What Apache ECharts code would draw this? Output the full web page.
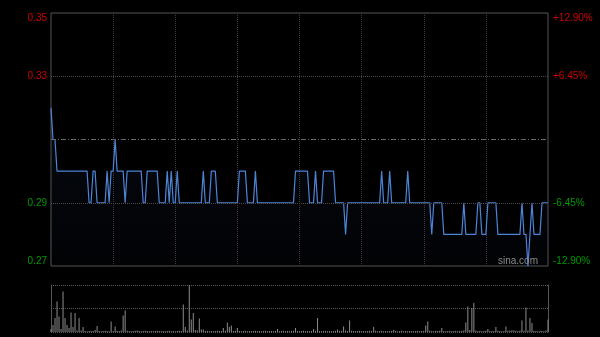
<!DOCTYPE html>
<html>
<head>
<meta charset="utf-8">
<script src="https://cdn.jsdelivr.net/npm/echarts@6/dist/echarts.min.js"></script>
<style>
html,body{margin:0;padding:0;background:#000;}
#c{width:600px;height:337px;}
</style>
</head>
<body>
<div id="c"></div>
<script>
const prevClose = 0.31;
const priceTicks = [0.27, 0.29, 0.31, 0.33, 0.35];
const prices = [
0.32,0.31,0.31,0.30,0.30,0.30,0.30,0.30,0.30,0.30,
0.30,0.30,0.30,0.30,0.30,0.30,0.30,0.30,0.30,0.29,
0.29,0.30,0.30,0.29,0.29,0.29,0.29,0.29,0.30,0.29,
0.30,0.30,0.31,0.30,0.30,0.30,0.30,0.29,0.30,0.30,
0.30,0.30,0.30,0.30,0.30,0.30,0.29,0.29,0.30,0.30,
0.30,0.30,0.30,0.30,0.29,0.29,0.29,0.29,0.30,0.29,
0.30,0.29,0.29,0.30,0.29,0.29,0.29,0.29,0.29,0.29,
0.29,0.29,0.29,0.29,0.29,0.29,0.30,0.29,0.29,0.29,
0.30,0.30,0.30,0.29,0.29,0.29,0.29,0.29,0.29,0.29,
0.29,0.29,0.29,0.29,0.30,0.30,0.30,0.30,0.29,0.29,
0.29,0.29,0.30,0.29,0.29,0.29,0.29,0.29,0.29,0.29,
0.29,0.29,0.29,0.29,0.29,0.29,0.29,0.29,0.29,0.29,
0.29,0.29,0.30,0.30,0.30,0.30,0.30,0.30,0.30,0.29,
0.29,0.29,0.30,0.29,0.29,0.29,0.30,0.30,0.30,0.30,
0.30,0.30,0.29,0.29,0.29,0.29,0.29,0.28,0.29,0.29,
0.29,0.29,0.29,0.29,0.29,0.29,0.29,0.29,0.29,0.29,
0.29,0.29,0.29,0.29,0.29,0.30,0.29,0.29,0.29,0.30,
0.29,0.29,0.29,0.29,0.29,0.29,0.29,0.29,0.30,0.29,
0.29,0.29,0.29,0.29,0.29,0.29,0.29,0.29,0.29,0.29,
0.28,0.29,0.29,0.29,0.29,0.29,0.28,0.28,0.28,0.28,
0.28,0.28,0.28,0.28,0.28,0.28,0.29,0.28,0.28,0.28,
0.28,0.28,0.28,0.29,0.29,0.28,0.28,0.28,0.29,0.29,
0.29,0.29,0.29,0.28,0.28,0.28,0.28,0.28,0.28,0.28,
0.28,0.28,0.28,0.28,0.28,0.29,0.28,0.28,0.27,0.28,
0.29,0.28,0.28,0.28,0.28,0.29,0.29,0.29,0.29
];
const volumes = [
60,140,280,610,310,60,810,280,140,80,
390,100,380,30,280,30,100,20,15,20,
25,20,40,120,20,15,20,25,20,15,
210,20,110,25,20,30,330,430,25,20,
15,20,25,30,20,15,20,25,20,15,
20,15,20,25,20,15,20,15,20,25,
15,20,15,20,25,20,550,100,30,940,
250,380,40,30,270,50,50,20,25,15,
20,15,20,25,20,20,80,25,190,100,
130,20,25,80,20,15,20,25,15,20,
15,20,25,15,20,15,20,25,15,20,
20,15,20,60,15,20,25,15,20,15,
20,25,80,20,15,20,25,15,20,15,
20,60,25,280,20,15,20,25,15,20,
15,20,25,50,20,25,110,30,20,230,
25,20,15,20,25,15,20,15,20,25,
20,100,25,15,20,25,15,20,15,20,
25,40,20,15,20,25,15,20,15,20,
20,15,20,25,15,20,25,130,210,30,
20,15,25,20,25,80,20,15,20,25,
15,20,25,15,20,25,30,190,510,40,
480,580,30,20,25,15,20,25,60,20,
15,20,100,25,20,15,20,110,25,30,
35,30,25,20,30,230,25,490,30,280,
180,25,20,15,25,20,15,30,250
];
const categories = prices.map((_, i) => String(i));

const RED = '#cc0000', GREEN = '#009900';
const FONT = 'Liberation Sans, Arial, sans-serif';
const isPrev = v => Math.abs(v - prevClose) < 1e-6;
const volMax = Math.max.apply(null, volumes);
const lastIdx = prices.length - 1;
const vStep = lastIdx / 8;

const chart = echarts.init(document.getElementById('c'), null, {renderer: 'canvas'});
chart.setOption({
  backgroundColor: '#000',
  animation: false,
  grid: [
    {left: 51, right: 52, top: 13, height: 253, show: true, borderColor: '#555', borderWidth: 1, backgroundColor: 'transparent'},
    {left: 51, right: 52, top: 285, height: 47, show: false}
  ],
  xAxis: [
    {type: 'category', gridIndex: 0, data: categories, boundaryGap: false,
     axisLine: {show: false}, axisTick: {show: false}, axisLabel: {show: false},
     splitLine: {show: true, interval: (i) => i > 0 && i < lastIdx && Math.abs(i / vStep - Math.round(i / vStep)) < 1e-6,
       lineStyle: {color: '#3a3a3a', type: [1, 1], width: 1}}},
    {type: 'category', gridIndex: 1, data: categories, boundaryGap: false,
     axisLine: {show: false}, axisTick: {show: false}, axisLabel: {show: false}, splitLine: {show: false}}
  ],
  yAxis: [
    {type: 'value', gridIndex: 0, position: 'left', min: priceTicks[0], max: priceTicks[priceTicks.length - 1], interval: 0.02,
     axisLine: {show: false}, axisTick: {show: false}, splitLine: {show: false},
     axisLabel: {fontSize: 10, fontFamily: FONT, margin: 4,
       formatter: v => isPrev(v) ? '' : v.toFixed(2),
       color: v => v > prevClose ? RED : GREEN,
       verticalAlignMinLabel: 'bottom', verticalAlignMaxLabel: 'top'}},
    {type: 'value', gridIndex: 0, position: 'right', min: priceTicks[0], max: priceTicks[priceTicks.length - 1], interval: 0.02,
     axisLine: {show: false}, axisTick: {show: false}, splitLine: {show: false},
     axisLabel: {fontSize: 10, fontFamily: FONT, margin: 5,
       formatter: v => {
         if (isPrev(v)) return '';
         const p = (v - prevClose) / prevClose * 100;
         return (p > 0 ? '+' : '') + p.toFixed(2) + '%';
       },
       color: v => v > prevClose ? RED : GREEN,
       verticalAlignMinLabel: 'bottom', verticalAlignMaxLabel: 'top'}},
    {type: 'value', gridIndex: 1, position: 'left', min: 0, max: volMax, interval: volMax / 2,
     axisLine: {show: true, lineStyle: {color: '#555'}}, axisTick: {show: false}, axisLabel: {show: false},
     splitLine: {show: true, lineStyle: {color: '#5a5a5a', type: [1, 1]}}},
    {type: 'value', gridIndex: 1, position: 'right', min: 0, max: volMax, interval: volMax / 2,
     axisLine: {show: true, lineStyle: {color: '#555'}}, axisTick: {show: false}, axisLabel: {show: false},
     splitLine: {show: false}}
  ],
  graphic: [
    {type: 'text', left: 498, top: 256, z: 100, silent: true,
     style: {text: 'sina.com', fill: '#8a8a8a', font: '10px ' + FONT}}
  ],
  series: [
    {type: 'line', xAxisIndex: 0, yAxisIndex: 0, data: prices, symbol: 'none', silent: true,
     lineStyle: {color: '#4d84d6', width: 1.2},
     areaStyle: {origin: 'start', color: new echarts.graphic.LinearGradient(0, 0, 0, 1, [
       {offset: 0, color: 'rgba(50,90,160,0.16)'},
       {offset: 1, color: 'rgba(40,60,110,0.06)'}
     ])},
     markLine: {silent: true, symbol: 'none', label: {show: false}, animation: false,
       data: [
         {yAxis: priceTicks[3], lineStyle: {color: '#4a4a4a', type: [1, 1], width: 1}},
         {yAxis: priceTicks[1], lineStyle: {color: '#4a4a4a', type: [1, 1], width: 1}},
         {yAxis: priceTicks[2], lineStyle: {color: '#6a6a6a', type: [5, 2, 1, 2], width: 1}}
       ]}},
    {type: 'bar', xAxisIndex: 1, yAxisIndex: 2, data: volumes, barWidth: 1, silent: true,
     itemStyle: {color: '#8c8c8c'}}
  ]
});
</script>
</body>
</html>
